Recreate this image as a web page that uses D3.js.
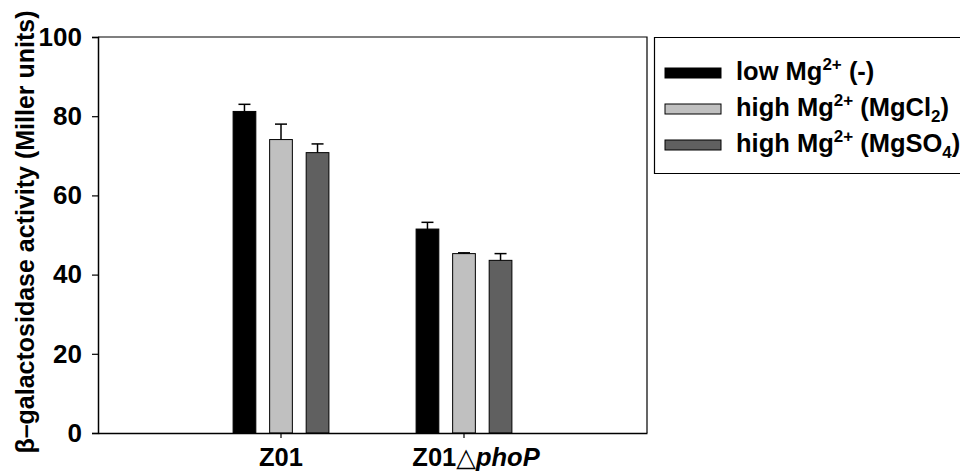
<!DOCTYPE html>
<html>
<head>
<meta charset="utf-8">
<script src="https://cdn.jsdelivr.net/npm/d3@7"></script>
<style>
  html, body { margin: 0; padding: 0; background: #fff; }
  svg { display: block; font-family: Arial, "Liberation Sans", Helvetica, sans-serif; font-weight: bold; }
</style>
</head>
<body>
<svg id="chart" width="960" height="472"></svg>
<script>
// Strains on the x axis
const strains = ["Z01", "Z01phoP"];
// Growth conditions (one bar per condition in each strain group)
const conditions = ["low", "MgCl2", "MgSO4"];
// Mean beta-galactosidase activity, Miller units (rows follow strains)
const lowMg   = [81.2, 51.5];
const highCl  = [74.1, 45.3];
const highSO4 = [70.8, 43.6];
// Standard deviations (upper error bars only)
const lowMgErr   = [1.8, 1.7];
const highClErr  = [3.9, 0.2];
const highSO4Err = [2.2, 1.7];
// Y axis ticks
const yTicks = [0, 20, 40, 60, 80, 100];

const fills = { low: "#000000", MgCl2: "#c0c0c0", MgSO4: "#606060" };

const rows = [];
strains.forEach((s, i) => {
  rows.push({ strain: s, cond: "low",   value: lowMg[i],   err: lowMgErr[i] });
  rows.push({ strain: s, cond: "MgCl2", value: highCl[i],  err: highClErr[i] });
  rows.push({ strain: s, cond: "MgSO4", value: highSO4[i], err: highSO4Err[i] });
});

const svg = d3.select("#chart");
const plot = { left: 98, right: 647, top: 37, bottom: 433 };

const x = d3.scaleBand().domain(strains).range([plot.left, plot.right])
  .paddingInner(0).paddingOuter(0.5);
const xSub = d3.scaleBand().domain(conditions).range([-47.9, 47.9])
  .paddingInner(0.378).paddingOuter(0);
const y = d3.scaleLinear().domain([0, 100]).range([plot.bottom, plot.top]);

// Plot frame (top and right edges)
svg.append("path")
  .attr("d", `M${plot.left},${plot.top}H${plot.right}V${plot.bottom}`)
  .attr("fill", "none").attr("stroke", "#000").attr("stroke-width", 1.2);

// Bars
svg.append("g").selectAll("rect").data(rows).join("rect")
  .attr("x", d => x(d.strain) + x.bandwidth() / 2 + xSub(d.cond))
  .attr("width", xSub.bandwidth())
  .attr("y", d => y(d.value))
  .attr("height", d => y(0) - y(d.value))
  .attr("fill", d => fills[d.cond])
  .attr("stroke", "#000").attr("stroke-width", 1);

// Upper error bars
const eb = svg.append("g").attr("stroke", "#000").attr("stroke-width", 1.5);
rows.forEach(d => {
  const cx = x(d.strain) + x.bandwidth() / 2 + xSub(d.cond) + xSub.bandwidth() / 2;
  eb.append("line").attr("x1", cx).attr("x2", cx)
    .attr("y1", y(d.value)).attr("y2", y(d.value + d.err));
  eb.append("line").attr("x1", cx - 6).attr("x2", cx + 6)
    .attr("y1", y(d.value + d.err)).attr("y2", y(d.value + d.err));
});

// Y axis
const yAxis = svg.append("g").attr("transform", `translate(${plot.left},0)`)
  .call(d3.axisLeft(y).tickValues(yTicks).tickSize(6).tickPadding(10).tickFormat(d3.format("d")));
yAxis.select(".domain").attr("stroke-width", 1.5);
yAxis.selectAll(".tick line").attr("stroke-width", 1.2);
yAxis.selectAll("text").attr("font-size", 26).attr("font-weight", "bold")
  .attr("font-family", "Arial, 'Liberation Sans', sans-serif").attr("fill", "#000");

// X axis
const xAxis = svg.append("g").attr("transform", `translate(0,${plot.bottom})`)
  .call(d3.axisBottom(x).tickSize(5).tickSizeOuter(0).tickFormat(""));
xAxis.select(".domain").attr("stroke-width", 1.5);
xAxis.selectAll(".tick line").attr("stroke-width", 1.2);

// Category labels
const labelY = 466;
svg.append("text").attr("x", x("Z01") + x.bandwidth() / 2).attr("y", labelY)
  .attr("text-anchor", "middle").attr("font-size", 25.5).text("Z01");
const lab2 = svg.append("text").attr("x", x("Z01phoP") + x.bandwidth() / 2 + 12).attr("y", labelY)
  .attr("text-anchor", "middle").attr("font-size", 25.5);
lab2.append("tspan").text("Z01");
lab2.append("tspan").attr("font-family", "'DejaVu Sans', sans-serif").attr("font-weight", "normal").text("\u25B3");
lab2.append("tspan").attr("font-style", "italic").text("phoP");

// Y axis title
svg.append("text")
  .attr("transform", `translate(34,${(plot.top + plot.bottom) / 2 - 3}) rotate(-90)`)
  .attr("text-anchor", "middle").attr("font-size", 25)
  .text("\u03B2\u2013galactosidase activity (Miller units)");

// Legend
const lg = svg.append("g");
lg.append("path").attr("d", "M961,37.5H654.5V173.5H961")
  .attr("fill", "none").attr("stroke", "#000").attr("stroke-width", 1.2);
const legendLabels = [
  [["low Mg", ""], ["2+", "sup"], [" (-)", ""]],
  [["high Mg", ""], ["2+", "sup"], [" (MgCl", ""], ["2", "sub"], [")", ""]],
  [["high Mg", ""], ["2+", "sup"], [" (MgSO", ""], ["4", "sub"], [")", ""]]
];
conditions.forEach((c, i) => {
  const cy = 73 + i * 36;
  lg.append("rect").attr("x", 665).attr("y", cy - 5).attr("width", 56).attr("height", 10)
    .attr("fill", fills[c]).attr("stroke", "#000").attr("stroke-width", 1);
  const t = lg.append("text").attr("x", 736).attr("y", cy + 7).attr("font-size", 25.5);
  // raised/lowered runs shift the baseline, normal runs return to it
  let shift = 0;
  legendLabels[i].forEach(([s, kind]) => {
    const ts = t.append("tspan").text(s);
    if (kind === "sup") { ts.attr("font-size", 17).attr("dy", -10 - shift); shift = -10; }
    else if (kind === "sub") { ts.attr("font-size", 17).attr("dy", 6 - shift); shift = 6; }
    else { ts.attr("dy", -shift); shift = 0; }
  });
});
</script>
</body>
</html>
